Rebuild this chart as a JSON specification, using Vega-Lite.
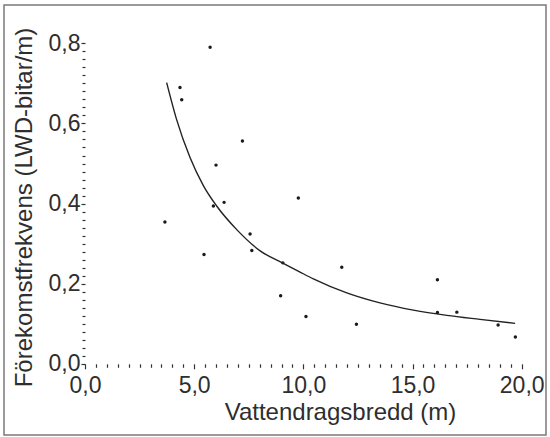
{
  "$schema": "https://vega.github.io/schema/vega-lite/v6.json",
  "width": 542,
  "height": 430,
  "autosize": {"type": "none"},
  "padding": {"left": 4, "top": 5, "right": 4, "bottom": 2},
  "background": "white",
  "config": {
    "view": {"stroke": "#7a7a7a", "strokeWidth": 1.5},
    "font": "Liberation Sans",
    "axis": {
      "domain": false,
      "grid": false,
      "tickColor": "#333",
      "tickWidth": 1.2,
      "labelFont": "Liberation Sans",
      "labelFontSize": 23,
      "labelColor": "#2e2e2e",
      "titleFont": "Liberation Sans",
      "titleFontSize": 24,
      "titleFontWeight": "normal",
      "titleColor": "#2e2e2e",
      "labelFlush": false,
      "labelOverlap": false
    }
  },
  "datasets": {
    "punkter": [
      {"bredd": 3.66, "frekvens": 0.354},
      {"bredd": 4.35, "frekvens": 0.690},
      {"bredd": 4.43, "frekvens": 0.659},
      {"bredd": 5.73, "frekvens": 0.790},
      {"bredd": 5.45, "frekvens": 0.273},
      {"bredd": 6.00, "frekvens": 0.496},
      {"bredd": 5.88, "frekvens": 0.394},
      {"bredd": 6.37, "frekvens": 0.403},
      {"bredd": 7.21, "frekvens": 0.556},
      {"bredd": 7.56, "frekvens": 0.324},
      {"bredd": 7.64, "frekvens": 0.283},
      {"bredd": 9.06, "frekvens": 0.252},
      {"bredd": 8.96, "frekvens": 0.170},
      {"bredd": 9.77, "frekvens": 0.414},
      {"bredd": 10.12, "frekvens": 0.118},
      {"bredd": 11.76, "frekvens": 0.241},
      {"bredd": 12.43, "frekvens": 0.099},
      {"bredd": 16.14, "frekvens": 0.210},
      {"bredd": 16.14, "frekvens": 0.128},
      {"bredd": 17.03, "frekvens": 0.129},
      {"bredd": 18.92, "frekvens": 0.097},
      {"bredd": 19.71, "frekvens": 0.067}
    ],
    "kurva": [
      {"bredd": 3.74, "frekvens": 0.702},
      {"bredd": 4.20, "frekvens": 0.609},
      {"bredd": 4.81, "frekvens": 0.515},
      {"bredd": 5.42, "frekvens": 0.445},
      {"bredd": 6.03, "frekvens": 0.394},
      {"bredd": 6.95, "frekvens": 0.335},
      {"bredd": 8.02, "frekvens": 0.282},
      {"bredd": 9.08, "frekvens": 0.251},
      {"bredd": 9.85, "frekvens": 0.229},
      {"bredd": 10.46, "frekvens": 0.212},
      {"bredd": 11.99, "frekvens": 0.177},
      {"bredd": 13.51, "frekvens": 0.152},
      {"bredd": 15.04, "frekvens": 0.134},
      {"bredd": 16.57, "frekvens": 0.121},
      {"bredd": 18.09, "frekvens": 0.111},
      {"bredd": 19.70, "frekvens": 0.101}
    ]
  },
  "layer": [
    {
      "data": {"name": "punkter"},
      "mark": {"type": "circle", "size": 12, "color": "#1a1a1a", "opacity": 1},
      "encoding": {
        "x": {
          "field": "bredd",
          "type": "quantitative",
          "scale": {"domain": [-3.7097, 21.113], "nice": false, "zero": false},
          "axis": {
            "orient": "bottom",
            "offset": -71.2,
            "values": [0, 5, 10, 15, 20],
            "labelExpr": "replace(format(datum.value, '.1f'), '.', ',')",
            "tickSize": 5,
            "labelPadding": 6,
            "title": "Vattendragsbredd (m)",
            "titleX": 336,
            "titleY": 55.5,
            "titleBaseline": "alphabetic",
            "titleAnchor": null,
            "titleAlign": "center"
          }
        },
        "y": {
          "field": "frekvens",
          "type": "quantitative",
          "scale": {"domain": [-0.1777, 0.8957], "nice": false, "zero": false},
          "axis": {
            "orient": "left",
            "offset": -81,
            "values": [0, 0.2, 0.4, 0.6, 0.8],
            "labelExpr": "replace(format(datum.value, '.1f'), '.', ',')",
            "tickSize": 4,
            "labelPadding": 1,
            "title": "Förekomstfrekvens (LWD-bitar/m)",
            "titleAngle": -90,
            "titleX": -54,
            "titleY": 202,
            "titleBaseline": "alphabetic",
            "titleAnchor": null,
            "titleAlign": "center"
          }
        }
      }
    },
    {
      "data": {"name": "kurva"},
      "mark": {"type": "line", "interpolate": "monotone", "color": "#222", "strokeWidth": 1.4},
      "encoding": {
        "x": {
          "field": "bredd",
          "type": "quantitative",
          "axis": {
            "orient": "bottom",
            "offset": -71.2,
            "values": [0.5, 1, 1.5, 2, 2.5, 3, 3.5, 4, 4.5, 5.5, 6, 6.5, 7, 7.5, 8, 8.5, 9, 9.5, 10.5, 11, 11.5, 12, 12.5, 13, 13.5, 14, 14.5, 15.5, 16, 16.5, 17, 17.5, 18, 18.5, 19, 19.5],
            "labels": false,
            "tickSize": 3.5,
            "title": null
          }
        },
        "y": {
          "field": "frekvens",
          "type": "quantitative",
          "axis": {
            "orient": "left",
            "offset": -81,
            "values": [0.02, 0.04, 0.06, 0.08, 0.1, 0.12, 0.14, 0.16, 0.18, 0.22, 0.24, 0.26, 0.28, 0.3, 0.32, 0.34, 0.36, 0.38, 0.42, 0.44, 0.46, 0.48, 0.5, 0.52, 0.54, 0.56, 0.58, 0.62, 0.64, 0.66, 0.68, 0.7, 0.72, 0.74, 0.76, 0.78],
            "labels": false,
            "tickSize": 3,
            "title": null
          }
        }
      }
    },
    {
      "mark": {"type": "rule", "color": "#333", "strokeWidth": 1.3},
      "encoding": {
        "x": {"datum": 0, "type": "quantitative", "axis": null},
        "y": {"datum": 0, "type": "quantitative", "axis": null},
        "y2": {"datum": 0.8}
      }
    },
    {
      "mark": {"type": "rule", "color": "#333", "strokeWidth": 1.3},
      "encoding": {
        "x": {"datum": 0, "type": "quantitative", "axis": null},
        "x2": {"datum": 20},
        "y": {"datum": 0, "type": "quantitative", "axis": null}
      }
    }
  ],
  "resolve": {"axis": {"x": "independent", "y": "independent"}}
}
